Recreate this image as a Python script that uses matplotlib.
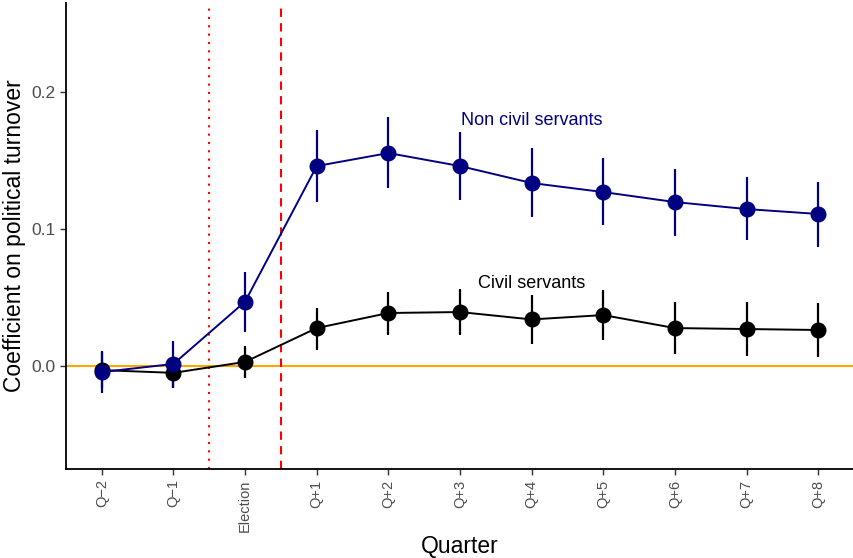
import matplotlib.pyplot as plt

quarters = ["Q\u22122", "Q\u22121", "Election", "Q+1", "Q+2", "Q+3", "Q+4", "Q+5", "Q+6", "Q+7", "Q+8"]

non_civil = [-0.0044, 0.0015, 0.047, 0.146, 0.1555, 0.146, 0.1336, 0.127, 0.1197, 0.1146, 0.111]
non_civil_lo = [-0.020, -0.015, 0.025, 0.120, 0.130, 0.121, 0.109, 0.103, 0.095, 0.092, 0.087]
non_civil_hi = [0.011, 0.018, 0.069, 0.172, 0.182, 0.171, 0.159, 0.152, 0.144, 0.138, 0.134]

civil = [-0.003, -0.005, 0.003, 0.0277, 0.0387, 0.0394, 0.034, 0.0372, 0.0277, 0.027, 0.0263]
civil_lo = [-0.016, -0.016, -0.0088, 0.012, 0.0226, 0.0226, 0.016, 0.019, 0.0088, 0.0073, 0.0066]
civil_hi = [0.010, 0.006, 0.0146, 0.042, 0.054, 0.056, 0.052, 0.0555, 0.0467, 0.047, 0.046]

plt.rcParams["font.family"] = ["Liberation Sans", "DejaVu Sans"]

fig = plt.figure(figsize=(8.54, 5.58), dpi=100)
ax = fig.add_axes([0.0773, 0.1595, 0.9227, 0.835])

x = list(range(1, len(quarters) + 1))

ax.axhline(0, color="#FFA500", lw=1.5, zorder=1)
ax.axvline(2.5, color="red", lw=1.5, linestyle=(0, (1, 3)), zorder=1)
ax.axvline(3.5, color="red", lw=1.5, linestyle=(0, (4, 3)), zorder=1)

for vals, lo, hi, col in [(civil, civil_lo, civil_hi, "black"),
                          (non_civil, non_civil_lo, non_civil_hi, "#000080")]:
    ax.plot(x, vals, color=col, lw=1.4, zorder=2)
    ax.vlines(x, lo, hi, color=col, lw=1.6, zorder=3)
    ax.plot(x, vals, "o", color=col, markersize=10.5, zorder=4)

ax.text(7.0, 0.1796, "Non civil servants", color="#000080", fontsize=13, ha="center", va="center")
ax.text(7.0, 0.0599, "Civil servants", color="black", fontsize=13, ha="center", va="center")

ax.set_xlim(0.5, 11.5)
ax.set_ylim(-0.0752, 0.265)
ax.set_xticks(x)
ax.set_xticklabels(quarters, rotation=90, fontsize=10.5, color="#4d4d4d")
ax.set_yticks([0.0, 0.1, 0.2])
ax.set_yticklabels(["0.0", "0.1", "0.2"], fontsize=12.5, color="#4d4d4d")
ax.tick_params(axis="both", length=4, width=1, color="#333333")

for s in ["top", "right"]:
    ax.spines[s].set_visible(False)
for s in ["left", "bottom"]:
    ax.spines[s].set_linewidth(1.3)

ax.set_xlabel("Quarter", fontsize=16.5, labelpad=2)
ax.set_ylabel("Coefficient on political turnover", fontsize=16.5, labelpad=4)

fig.savefig("out.png", dpi=100)
